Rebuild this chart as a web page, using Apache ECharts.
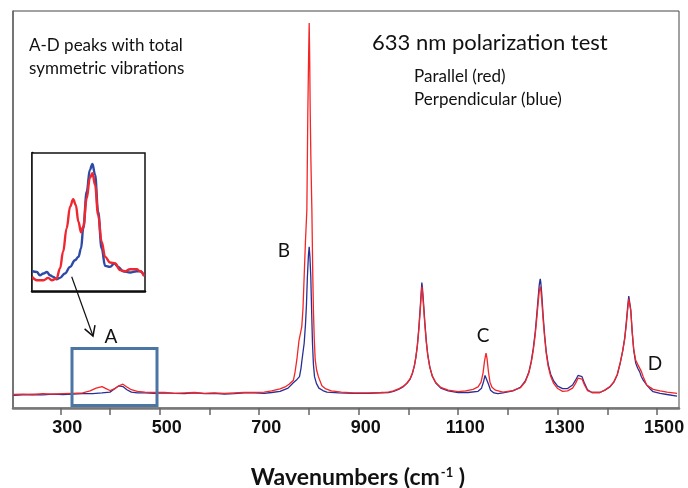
<!DOCTYPE html>
<html>
<head>
<meta charset="utf-8">
<script src="https://cdn.jsdelivr.net/npm/echarts@6/dist/echarts.min.js"></script>
<style>
  html, body { margin: 0; padding: 0; background: #fff; }
  #chart-container { width: 688px; height: 488px; }
</style>
</head>
<body>
<div id="chart-container"></div>
<script>
// tick labels on the wavenumber axis
var tickValues = [300, 400, 500, 600, 700, 800, 900, 1000, 1100, 1200, 1300, 1400, 1500];
var labelValues = [300, 500, 700, 900, 1100, 1300, 1500];

// parallel polarization (red), [wavenumber, intensity]
var parallelRed = [
  [206,3.4],[225,3.5],[245,3.4],[265,3.6],[285,3.5],[305,3.6],[325,3.7],[345,3.8],[360,4.3],[372,5.0],
  [384,5.4],[392,4.9],[400,4.4],[410,4.9],[418,5.6],[426,6.0],[434,5.3],[443,4.6],[455,4.2],[470,4.0],
  [490,3.9],[510,3.9],[530,3.7],[550,3.8],[570,3.9],[590,3.7],[610,3.8],[630,3.7],[650,3.8],[670,3.9],
  [690,3.9],[710,4.0],[725,4.3],[742,4.8],[752,5.3],[760,6.0],[768.8,7.0],[772,9.0],[775.6,12.1],[780,17.0],
  [785.6,20.5],[788,25.0],[790.4,33.1],[793,42.0],[795.8,49.9],[797.8,75],[799.5,90],[800.5,97],[801.5,88],[802.5,75],
  [804,62],[805.9,49.9],[807.5,35],[809,24.7],[810.8,17],[812.6,12.1],[815.5,9.5],[819,7.9],[826,5.6],[834,4.8],
  [845,4.3],[865,4.0],[890,3.8],[920,3.8],[945,3.9],[960,4.0],[970,4.3],[980,4.8],[990,5.5],[997,6.3],
  [1003.5,7.4],[1008,8.8],[1012,10.7],[1015,12.8],[1018,15.7],[1021,19.8],[1024,25.0],[1026,28.8],[1027,30.6],[1028,29.5],
  [1030,26.3],[1033,21.0],[1036,16.5],[1039,13.2],[1043,10.3],[1048,8.1],[1055,6.4],[1065,5.2],[1080,4.5],[1100,4.1],
  [1115,4.3],[1130,4.7],[1140,5.3],[1146,6.5],[1150,8.8],[1153,11.8],[1156,13.8],[1158,12.5],[1161,9.0],[1164,6.5],
  [1168,5.2],[1175,4.5],[1190,4.0],[1210,4.4],[1225,5.1],[1235,6.6],[1242,8.8],[1247,11.5],[1251,14.5],[1255,18.5],
  [1258,22.5],[1261,26.8],[1263,29.4],[1265,30.6],[1266,30.0],[1268,27.3],[1271,22.0],[1274,17.5],[1277,13.8],[1281,10.5],
  [1286,8.0],[1292,6.2],[1300,4.9],[1310,4.2],[1320,4.3],[1330,5.0],[1336,6.2],[1341,7.5],[1345,7.9],[1349,7.3],
  [1354,5.8],[1360,4.4],[1369,3.9],[1385,3.9],[1395,4.5],[1405,5.4],[1413,6.6],[1420,8.5],[1426,11.5],[1431,14.5],
  [1435,17.5],[1438,21.0],[1441,25.0],[1443,27.5],[1444,28.0],[1445,27.5],[1447,24.5],[1450,19.0],[1453,14.8],[1457,12.0],
  [1461,11.0],[1465,10.5],[1468,9.3],[1472,7.9],[1479,5.8],[1486,5.2],[1492,4.7],[1506,4.3],[1520,4.0],[1540,3.7]
];

// perpendicular polarization (blue)
var perpBlue = [
  [206,3.2],[225,3.3],[245,3.4],[265,3.3],[285,3.5],[305,3.4],[325,3.5],[345,3.6],[365,3.6],[384,3.8],
  [400,4.0],[410,4.9],[418,5.6],[426,5.4],[434,4.6],[443,4.0],[455,3.8],[470,3.8],[490,3.7],[510,3.8],
  [530,3.7],[550,3.6],[570,3.8],[590,3.6],[610,3.7],[630,3.5],[650,3.6],[670,3.8],[690,3.8],[710,3.7],
  [725,3.9],[742,4.2],[758,5.0],[768,6.3],[776,7.2],[781,7.9],[784,10.0],[786,12.1],[790.4,16.3],[793,21.0],
  [795,26.0],[796.9,33.1],[799,38.5],[800.5,40.6],[802,38.0],[803.7,33.1],[805.5,24.0],[807.1,16.3],[809,11.0],[811.2,7.9],
  [815,6.2],[820,5.0],[828,4.4],[836,4.0],[860,3.8],[890,3.7],[920,3.7],[945,3.8],[960,3.9],[970,4.2],
  [980,4.7],[990,5.4],[997,6.2],[1003.5,7.3],[1008,8.7],[1012,10.6],[1015,12.8],[1018,15.8],[1021,20.2],[1024,25.8],
  [1026,29.8],[1027,31.6],[1028,30.5],[1030,27.2],[1033,21.6],[1036,16.8],[1039,13.3],[1043,10.3],[1048,8.0],[1055,6.3],
  [1065,5.0],[1080,4.3],[1100,3.9],[1120,3.9],[1140,4.2],[1147,5.0],[1151,6.6],[1154,8.2],[1156,8.5],[1158,7.8],
  [1161,6.0],[1165,4.5],[1172,3.8],[1180,3.6],[1190,3.8],[1210,4.3],[1225,5.2],[1235,6.8],[1242,9.0],[1247,11.8],
  [1251,15.0],[1255,19.2],[1258,23.5],[1261,28.0],[1263,31.0],[1265,32.5],[1266,31.8],[1268,28.8],[1271,23.0],[1274,18.2],
  [1277,14.3],[1281,11.0],[1286,8.5],[1292,6.8],[1300,5.5],[1310,4.9],[1320,4.9],[1330,5.8],[1336,7.0],[1341,8.2],
  [1345,8.5],[1349,7.9],[1354,6.2],[1360,4.6],[1369,3.9],[1385,3.9],[1395,4.5],[1405,5.3],[1413,6.5],[1420,8.4],
  [1426,11.4],[1431,14.5],[1435,17.8],[1438,21.5],[1441,25.8],[1443,28.2],[1444,28.7],[1445,28.0],[1447,24.8],[1450,19.0],
  [1453,14.5],[1457,11.3],[1461,10.0],[1465,9.1],[1468,8.0],[1472,7.0],[1479,5.8],[1486,4.8],[1492,4.1],[1506,3.7],
  [1520,3.4],[1540,3.0]
];

// inset: peak A region, y rescaled
var insetRed = [
  [291,10.2],[301,7.8],[316,7.8],[327,9.5],[335,7.8],[346,9.0],[354,16.3],[361,28.4],[369,45.4],[377,61.1],
  [384,66.5],[390,62.4],[396,50.2],[402,42.5],[407,46.6],[415,67.2],[422,81.8],[428,85.4],[434,76.9],[441,55.1],
  [449,35.7],[457,24.7],[468,20.7],[480,19.9],[491,15.1],[502,14.3],[514,15.8],[529,15.8],[537,14.3],[546,10.9]
];
var insetBlue = [
  [291,14.3],[301,13.8],[308,11.4],[316,12.7],[324,13.8],[331,11.4],[339,10.2],[346,8.5],[354,9.5],[365,12.7],
  [377,17.5],[388,22.3],[396,24.7],[402,30.9],[407,45.4],[415,72.1],[422,87.8],[428,92.0],[434,84.2],[441,57.5],
  [449,30.9],[457,18.2],[468,17.5],[478,19.9],[487,17.5],[498,14.3],[514,13.4],[529,14.3],[537,14.3],[546,10.9]
];

var dom = document.getElementById('chart-container');
var myChart = echarts.init(dom, null, { renderer: 'canvas' });

var labelFont = 'Lato, "Open Sans", sans-serif';

var option = {
  backgroundColor: '#fff',
  animation: false,
  grid: [
    { left: 13, right: 9, top: 11, bottom: 80, show: true, borderColor: '#444', borderWidth: 1, backgroundColor: '#fff' },
    { left: 32, top: 153, width: 113, height: 138, show: true, borderColor: '#111', borderWidth: 1.5, backgroundColor: '#fff', z: 5 }
  ],
  xAxis: [
    {
      type: 'value', gridIndex: 0, min: 205, max: 1544,
      axisLine: { show: true, lineStyle: { color: '#777', width: 2.5 } },
      axisTick: { show: true, customValues: tickValues, length: 7, inside: false, lineStyle: { color: '#666', width: 1.5 } },
      axisLabel: {
        customValues: labelValues, margin: 11, padding: [0, 0, 0, 14],
        formatter: function (v) { return String(v); },
        fontFamily: '"Liberation Sans", Arial, sans-serif', fontWeight: 'bold', fontSize: 18, color: '#111'
      },
      splitLine: { show: false }
    },
    {
      type: 'value', gridIndex: 1, min: 290, max: 548,
      axisLine: { show: true, onZero: false, lineStyle: { color: '#000', width: 2.5 } },
      axisTick: { show: false }, axisLabel: { show: false }, splitLine: { show: false }
    }
  ],
  yAxis: [
    {
      type: 'value', gridIndex: 0, min: 0, max: 100,
      axisLine: { show: true, lineStyle: { color: '#666', width: 1.5 } },
      axisTick: { show: false }, axisLabel: { show: false }, splitLine: { show: false }
    },
    {
      type: 'value', gridIndex: 1, min: 0, max: 100,
      axisLine: { show: true, onZero: false, lineStyle: { color: '#000', width: 2.5 } },
      axisTick: { show: false }, axisLabel: { show: false }, splitLine: { show: false }
    }
  ],
  series: [
    {
      name: 'Perpendicular', type: 'line', xAxisIndex: 0, yAxisIndex: 0,
      data: perpBlue, showSymbol: false, smooth: false,
      lineStyle: { color: '#282e96', width: 1.3 }
    },
    {
      name: 'Parallel', type: 'line', xAxisIndex: 0, yAxisIndex: 0,
      data: parallelRed, showSymbol: false, smooth: false,
      lineStyle: { color: '#f52525', width: 1.3 }
    },
    {
      name: 'Perpendicular inset', type: 'line', xAxisIndex: 1, yAxisIndex: 1, z: 6,
      data: insetBlue, showSymbol: false, smooth: 0.4, smoothMonotone: 'x',
      lineStyle: { color: '#2c4aa6', width: 2.4 }
    },
    {
      name: 'Parallel inset', type: 'line', xAxisIndex: 1, yAxisIndex: 1, z: 6,
      data: insetRed, showSymbol: false, smooth: 0.4, smoothMonotone: 'x',
      lineStyle: { color: '#ef2730', width: 2.4 }
    }
  ],
  graphic: [
    { type: 'text', x: 29, y: 46, style: { text: 'A-D peaks with total', font: '17px ' + labelFont, fill: '#111', textVerticalAlign: 'middle' } },
    { type: 'text', x: 29, y: 69, style: { text: 'symmetric vibrations', font: '17px ' + labelFont, fill: '#111', textVerticalAlign: 'middle' } },
    { type: 'text', x: 372, y: 43, style: { text: '633 nm polarization test', font: '22px ' + labelFont, fill: '#111', textVerticalAlign: 'middle' } },
    { type: 'text', x: 414, y: 77, style: { text: 'Parallel (red)', font: '17px ' + labelFont, fill: '#111', textVerticalAlign: 'middle' } },
    { type: 'text', x: 414, y: 100, style: { text: 'Perpendicular (blue)', font: '17px ' + labelFont, fill: '#111', textVerticalAlign: 'middle' } },
    { type: 'text', x: 111, y: 337, style: { text: 'A', font: '19px ' + labelFont, fill: '#111', textAlign: 'center', textVerticalAlign: 'middle' } },
    { type: 'text', x: 284, y: 251, style: { text: 'B', font: '19px ' + labelFont, fill: '#111', textAlign: 'center', textVerticalAlign: 'middle' } },
    { type: 'text', x: 483, y: 336, style: { text: 'C', font: '19px ' + labelFont, fill: '#111', textAlign: 'center', textVerticalAlign: 'middle' } },
    { type: 'text', x: 655, y: 364, style: { text: 'D', font: '19px ' + labelFont, fill: '#111', textAlign: 'center', textVerticalAlign: 'middle' } },
    // box around peak A
    { type: 'rect', z: 10, shape: { x: 72, y: 348.5, width: 85, height: 57 }, style: { fill: 'none', stroke: '#4b76a4', lineWidth: 3 } },
    // arrow from inset to box
    { type: 'polyline', z: 10, shape: { points: [[71.7, 276.7], [93, 336]] }, style: { stroke: '#111', lineWidth: 1.2, fill: 'none' } },
    { type: 'polyline', z: 10, shape: { points: [[84.6, 328.9], [93, 336], [95, 325.2]] }, style: { stroke: '#111', lineWidth: 1.5, fill: 'none' } },
    // axis title
    {
      type: 'text', x: 358, y: 478,
      style: {
        text: '{a|Wavenumbers (cm}{s|-1}{a| )}',
        textAlign: 'center', textVerticalAlign: 'middle',
        rich: {
          a: { fontFamily: labelFont, fontWeight: 'bold', fontSize: 23, fill: '#111' },
          s: { fontFamily: labelFont, fontWeight: 'bold', fontSize: 13, fill: '#111', padding: [0, 0, 10, 1] }
        }
      }
    }
  ]
};

myChart.setOption(option);
window.addEventListener('resize', myChart.resize);
</script>
</body>
</html>
